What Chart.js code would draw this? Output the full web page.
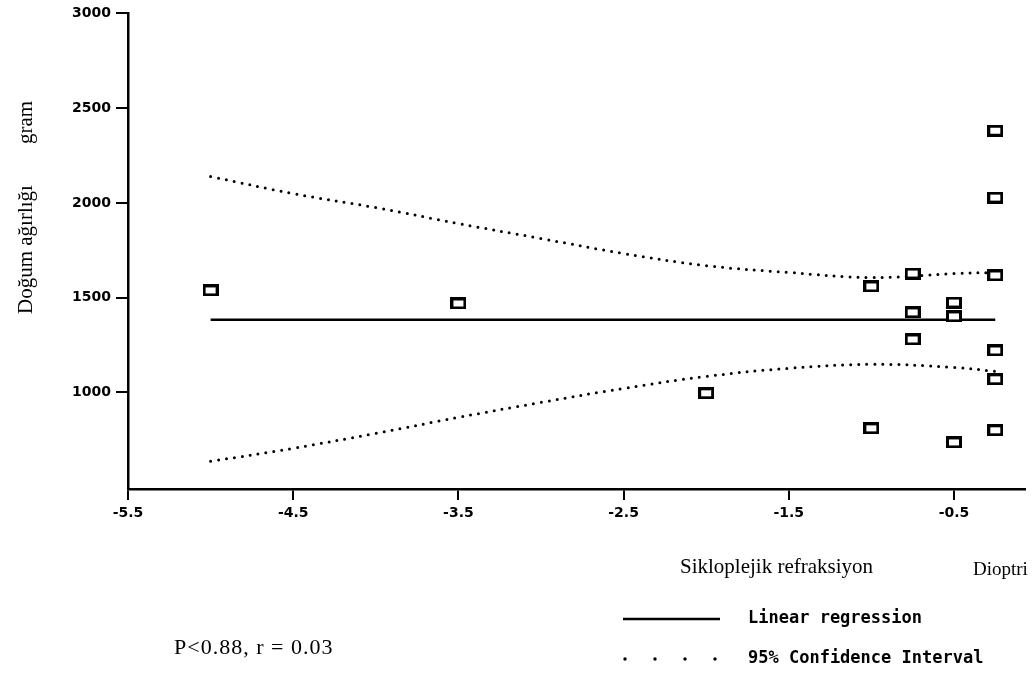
<!DOCTYPE html>
<html><head><meta charset="utf-8">
<script src="https://cdn.jsdelivr.net/npm/chart.js@4"></script>
<style>html,body{margin:0;padding:0;background:#fff;overflow:hidden}</style>
</head><body>
<canvas id="c" width="1032" height="679"></canvas>
<script>
// ---- data ----
const xTickVals = [-5.5, -4.5, -3.5, -2.5, -1.5, -0.5];
const yTickVals = [1000, 1500, 2000, 2500, 3000];
const obsX = [-5.0, -3.5, -2.0, -1.0, -1.0, -0.75, -0.75, -0.75, -0.5, -0.5, -0.5, -0.25, -0.25, -0.25, -0.25, -0.25, -0.25];
const obsY = [1538, 1469, 995, 1559, 810, 1627, 1422, 1279, 1474, 1401, 736, 2381, 2028, 1617, 1221, 1069, 800];
const regX = [-5.0, -0.25];
const regY = [1383, 1383];
const ciX = [-5.0, -4.5, -4.0, -3.5, -3.0, -2.5, -2.0, -1.5, -1.0, -0.5, -0.25];
const ciUpper = [2139, 2049, 1975, 1891, 1812, 1733, 1669, 1633, 1606, 1627, 1633];
const ciLower = [636, 705, 784, 868, 947, 1021, 1084, 1127, 1148, 1132, 1111];
const yTitle1 = 'Doğum ağırlığı';
const yTitle2 = 'gram';
const xTitle = 'Sikloplejik refraksiyon';
const xUnit = 'Dioptri';
const legendReg = 'Linear regression';
const legendCI = '95% Confidence Interval';
const statText = 'P<0.88, r = 0.03';

const pts = (xs, ys) => xs.map((x, i) => ({x, y: ys[i]}));

function boxMarker() {
  const c = document.createElement('canvas');
  c.width = 16; c.height = 12;
  const g = c.getContext('2d');
  g.fillStyle = '#fff'; g.fillRect(1, 1, 14, 10);
  g.strokeStyle = '#000'; g.lineWidth = 3;
  g.strokeRect(1.5, 1.5, 13, 9);
  return c;
}

const extras = {
  id: 'extras',
  afterDraw(chart) {
    const ctx = chart.ctx;
    ctx.save();
    ctx.fillStyle = '#000';
    // y title
    ctx.font = '21px "Liberation Serif"';
    ctx.textBaseline = 'middle';
    ctx.textAlign = 'left';
    ctx.save(); ctx.translate(26, 314); ctx.rotate(-Math.PI / 2); ctx.fillText(yTitle1, 0, 0); ctx.restore();
    ctx.save(); ctx.translate(26, 144); ctx.rotate(-Math.PI / 2); ctx.fillText(yTitle2, 0, 0); ctx.restore();
    // x titles
    ctx.font = '21px "Liberation Serif"';
    ctx.fillText(xTitle, 680, 567);
    ctx.font = '19px "Liberation Serif"';
    ctx.fillText(xUnit, 973, 570);
    // stats
    ctx.font = '22px "Liberation Serif"';
    ctx.save();
    ctx.letterSpacing = '1px';
    ctx.fillText(statText, 174, 648);
    ctx.restore();
    // legend
    ctx.strokeStyle = '#000';
    ctx.lineWidth = 2.5;
    ctx.beginPath(); ctx.moveTo(623, 619); ctx.lineTo(720, 619); ctx.stroke();
    for (const dx of [625, 655, 685, 715]) {
      ctx.beginPath(); ctx.arc(dx, 659, 1.7, 0, Math.PI * 2); ctx.fill();
    }
    ctx.font = 'bold 17px "DejaVu Sans Mono"';
    ctx.fillText(legendReg, 748, 619);
    ctx.fillText(legendCI, 748, 659);
    ctx.restore();
  }
};

new Chart(document.getElementById('c'), {
  type: 'scatter',
  data: {
    datasets: [
      { label: 'obs', data: pts(obsX, obsY), pointStyle: boxMarker(), pointRadius: 6, order: 0 },
      { label: legendReg, data: pts(regX, regY), showLine: true, borderColor: '#000', borderWidth: 2.5, pointRadius: 0, order: 1 },
      { label: legendCI, data: pts(ciX, ciUpper), showLine: true, borderColor: '#000', borderWidth: 3, borderDash: [0, 8], borderCapStyle: 'round', tension: 0.4, pointRadius: 0, order: 2 },
      { label: legendCI + ' low', data: pts(ciX, ciLower), showLine: true, borderColor: '#000', borderWidth: 3, borderDash: [0, 8], borderCapStyle: 'round', tension: 0.4, pointRadius: 0, order: 2 }
    ]
  },
  options: {
    responsive: false,
    animation: false,
    devicePixelRatio: 1,
    layout: { padding: { left: 0, right: 0, top: 12, bottom: 150 } },
    plugins: { legend: { display: false }, tooltip: { enabled: false } },
    scales: {
      x: {
        type: 'linear', min: -5.5, max: -0.07,
        afterBuildTicks: s => { s.ticks = xTickVals.map(v => ({value: v})); },
        afterFit: s => { s.height = 40; },
        grid: { drawOnChartArea: false, drawTicks: true, tickLength: 11, color: '#000', lineWidth: 2 },
        border: { display: true, color: '#000', width: 2.5 },
        ticks: { color: '#000', font: { family: 'DejaVu Sans', weight: 'bold', size: 14 }, padding: 5, maxRotation: 0, callback: v => String(v) }
      },
      y: {
        type: 'linear', min: 490, max: 3000,
        afterBuildTicks: s => { s.ticks = yTickVals.map(v => ({value: v})); },
        afterFit: s => { s.width = 128; },
        grid: { drawOnChartArea: false, drawTicks: true, tickLength: 12, color: '#000', lineWidth: 2 },
        border: { display: true, color: '#000', width: 2.5 },
        ticks: { color: '#000', font: { family: 'DejaVu Sans', weight: 'bold', size: 14 }, padding: 5, callback: v => String(v) }
      }
    }
  },
  plugins: [extras]
});
</script></body></html>
